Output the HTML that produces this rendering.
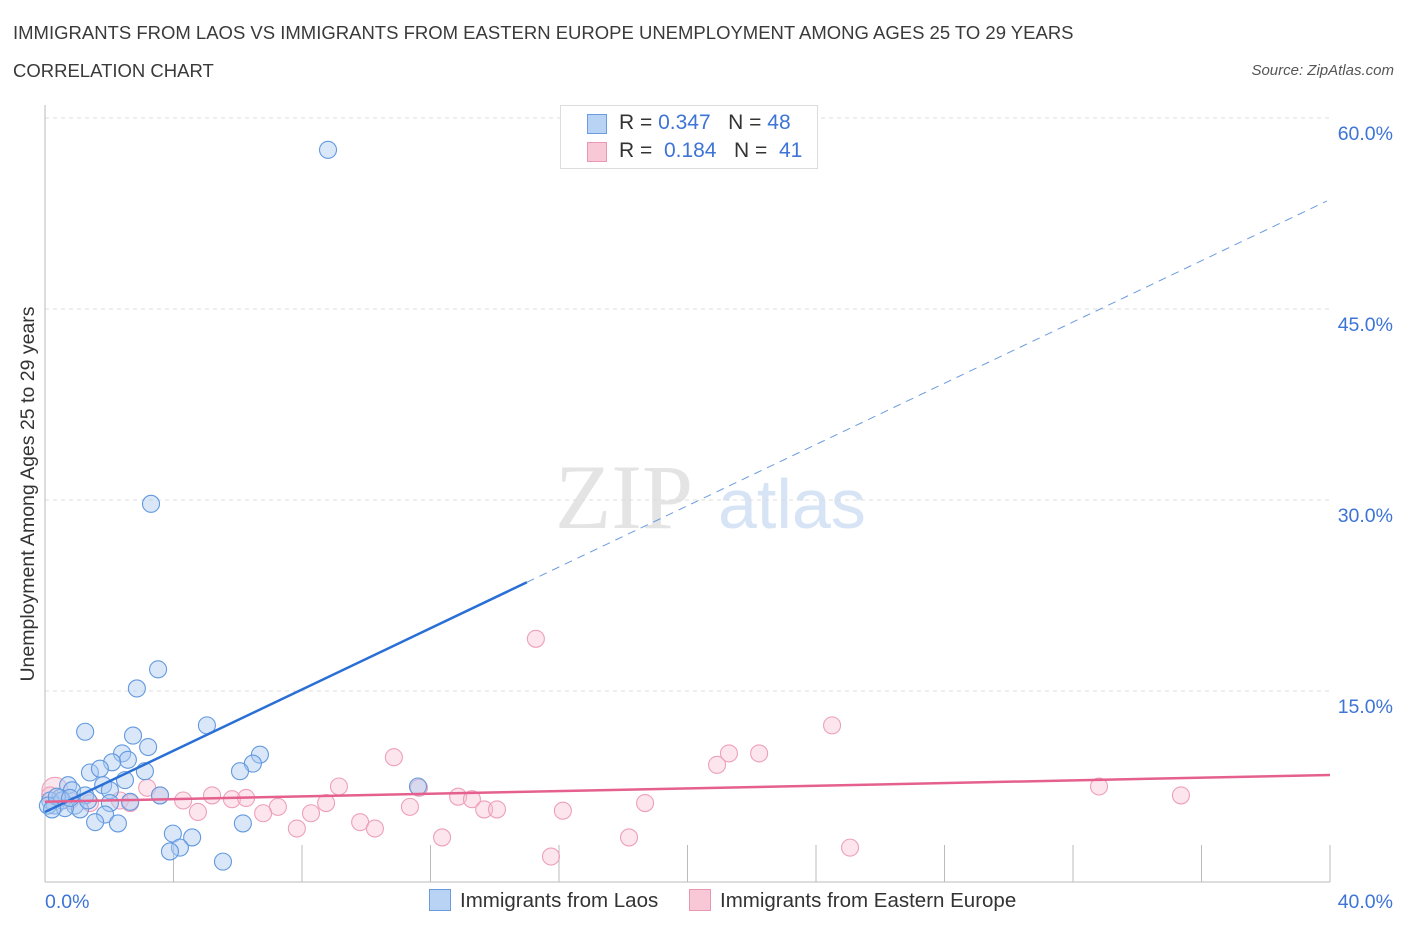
<!DOCTYPE html>
<html><head><meta charset="utf-8"><style>
body{margin:0;background:#fff;font-family:"Liberation Sans",sans-serif;}
#wrap{position:relative;width:1406px;height:930px;overflow:hidden;}
.t{position:absolute;white-space:nowrap;}
</style></head><body>
<div id="wrap">
<div class="t" style="left:13px;top:22px;font-size:18.5px;color:#3a3a3a;">IMMIGRANTS FROM LAOS VS IMMIGRANTS FROM EASTERN EUROPE UNEMPLOYMENT AMONG AGES 25 TO 29 YEARS</div>
<div class="t" style="left:13px;top:60px;font-size:18.5px;color:#3a3a3a;">CORRELATION CHART</div>
<div class="t" style="right:12px;top:62px;font-size:15px;color:#555;font-style:italic;">Source: ZipAtlas.com</div>
<svg id="svg" width="1406" height="930" style="position:absolute;left:0;top:0"></svg>
</div>
<script>
const blueX=[8.81,3.30,3.52,2.86,1.25,5.04,2.74,3.21,2.40,2.58,6.69,6.47,2.09,6.07,3.11,1.40,1.71,2.49,0.72,1.81,11.61,2.02,0.84,1.25,0.47,0.16,0.31,0.93,2.02,2.65,3.58,1.09,1.87,2.27,1.56,6.16,3.98,4.58,4.20,3.89,5.54,0.09,0.53,0.62,0.37,0.78,1.34,0.22];
const blueY=[57.5,29.7,16.7,15.2,11.8,12.3,11.5,10.6,10.1,9.6,10.0,9.3,9.4,8.7,8.7,8.6,8.9,8.0,7.6,7.6,7.5,7.2,7.2,6.8,6.6,6.4,6.0,6.0,6.2,6.3,6.8,5.7,5.3,4.6,4.7,4.6,3.8,3.5,2.7,2.4,1.6,6.0,6.4,5.8,6.7,6.6,6.4,5.7];
const pinkX=[15.28,24.50,10.86,21.29,22.23,20.92,3.18,9.15,32.81,35.36,11.64,12.86,13.29,3.58,5.20,5.82,6.26,4.30,8.75,7.25,18.68,11.36,13.67,14.07,16.12,4.76,6.79,8.28,9.81,7.84,10.27,12.36,18.18,25.06,15.75,0.31,0.78,1.40,2.33,2.65,0.16];
const pinkY=[19.1,12.3,9.8,10.1,10.1,9.2,7.4,7.5,7.5,6.8,7.4,6.7,6.5,6.8,6.8,6.5,6.6,6.4,6.2,5.9,6.2,5.9,5.7,5.7,5.6,5.5,5.4,5.4,4.7,4.2,4.2,3.5,3.5,2.7,2.0,7.2,6.4,6.2,6.4,6.2,6.8];
const yTicks=[15,30,45,60];
const yTickLabels=["15.0%","30.0%","45.0%","60.0%"];
const blueLine=[5.5,53.6];
const blueSolidEnd=15;
const pinkLine=[6.3,8.4];

const X0=45,X1=1330,Y0=882,PPY=12.733;
const sx=v=>X0+(X1-X0)*v/40;
const sy=v=>Y0-v*PPY;
const svg=document.getElementById('svg');
const NS='http://www.w3.org/2000/svg';
function mk(tag,attrs,name){const e=document.createElementNS(NS,tag);for(const k in attrs)e.setAttribute(k,attrs[k]);


svg.appendChild(e);return e;}
let w=mk('text',{x:555,y:528,'font-size':92,'font-family':'Liberation Serif',fill:'#e4e4e4'},'watermark-zip');w.textContent='ZIP';
w=mk('text',{x:718,y:528,'font-size':70,'font-family':'Liberation Sans',fill:'#d6e4f5'},'watermark-atlas');w.textContent='atlas';
yTicks.forEach((t,i)=>{
 mk('line',{x1:X0,x2:X1,y1:sy(t),y2:sy(t),stroke:'#ddd','stroke-dasharray':'4,4'},'gridline');
 const tx=mk('text',{x:1393,y:sy(t)+22,'text-anchor':'end','font-size':19.5,fill:'#3d74d6','font-family':'Liberation Sans'},'y-tick-label');tx.textContent=yTickLabels[i];
});
mk('line',{x1:X0,x2:X0,y1:105,y2:Y0,stroke:'#bbb'},'y-axis');
mk('line',{x1:X0,x2:X1,y1:Y0,y2:Y0,stroke:'#bbb'},'x-axis');
for(let i=1;i<=10;i++)mk('line',{x1:sx(i*4),x2:sx(i*4),y1:845,y2:Y0,stroke:'#bbb'},'x-tick');
let t=mk('text',{x:45,y:908,'font-size':19.5,fill:'#3d74d6'},'x-tick-label');t.textContent='0.0%';
t=mk('text',{x:1393,y:908,'text-anchor':'end','font-size':19.5,fill:'#3d74d6'},'x-tick-label');t.textContent='40.0%';
t=mk('text',{x:0,y:0,'font-size':19.5,fill:'#333',transform:'translate(34,494) rotate(-90)','text-anchor':'middle'},'y-axis-title');t.textContent='Unemployment Among Ages 25 to 29 years';
pinkX.forEach((x,i)=>mk('circle',{cx:sx(x),cy:sy(pinkY[i]),r:i==35?13:8.5,fill:'rgba(248,190,208,0.4)',stroke:'#eda0b9','stroke-width':1.1},'pink-point'));
blueX.forEach((x,i)=>mk('circle',{cx:sx(x),cy:sy(blueY[i]),r:8.5,fill:'rgba(170,202,242,0.45)',stroke:'#6299df','stroke-width':1.1},'blue-point'));
const by=x=>blueLine[0]+(blueLine[1]-blueLine[0])*x/40;
mk('line',{x1:sx(0),y1:sy(by(0)),x2:sx(blueSolidEnd),y2:sy(by(blueSolidEnd)),stroke:'#2a6fd6','stroke-width':2.5},'blue-trend-line');
mk('line',{x1:sx(blueSolidEnd),y1:sy(by(blueSolidEnd)),x2:sx(39.9),y2:sy(by(39.9)),stroke:'#6a9ae0','stroke-width':1,'stroke-dasharray':'8,6'},'blue-trend-extension');
mk('line',{x1:sx(0),y1:sy(pinkLine[0]),x2:sx(40),y2:sy(pinkLine[1]),stroke:'#e5608e','stroke-width':2.5},'pink-trend-line');
</script>
<div class="t" style="left:560px;top:105px;width:256px;height:62px;border:1px solid #ddd;background:#fff;font-size:21px;">
 <div style="position:absolute;left:26px;top:8px;width:18px;height:18px;background:#b9d3f5;border:1px solid #6a9ae0"></div>
 <div style="position:absolute;left:58px;top:5px;color:#333">R = <span style="color:#3d74d6">0.347</span>&nbsp;&nbsp;&nbsp;N = <span style="color:#3d74d6">48</span></div>
 <div style="position:absolute;left:26px;top:36px;width:18px;height:18px;background:#f9c8d7;border:1px solid #eb97b3"></div>
 <div style="position:absolute;left:58px;top:33px;color:#333">R = &nbsp;<span style="color:#3d74d6">0.184</span>&nbsp;&nbsp;&nbsp;N = &nbsp;<span style="color:#3d74d6">41</span></div>
</div>
<div class="t" style="left:429px;top:889px;font-size:20.5px;color:#333;">
 <span style="display:inline-block;width:20px;height:20px;background:#b9d3f5;border:1px solid #6a9ae0;vertical-align:-4px;margin-right:9px"></span>Immigrants from Laos</div>
<div class="t" style="left:689px;top:889px;font-size:20.5px;color:#333;">
 <span style="display:inline-block;width:20px;height:20px;background:#f9c8d7;border:1px solid #eb97b3;vertical-align:-4px;margin-right:9px"></span>Immigrants from Eastern Europe</div>
</body></html>
